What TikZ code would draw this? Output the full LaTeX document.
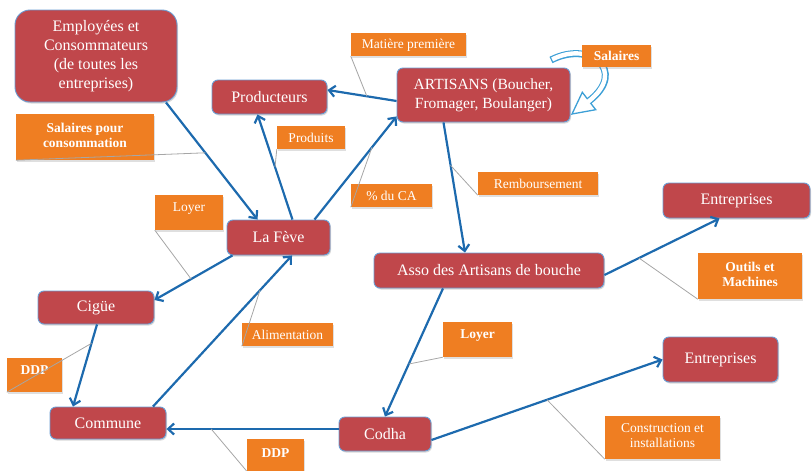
\documentclass[tikz,border=0pt]{standalone}
\usepackage{fontspec}
\setmainfont{Liberation Serif}
\usetikzlibrary{arrows.meta,shadows}
\definecolor{nodered}{HTML}{C0474B}
\definecolor{nodeborder}{HTML}{6A9BD1}
\definecolor{lorange}{HTML}{EF7E22}
\definecolor{arrblue}{HTML}{1D6AAE}
\definecolor{leadgray}{HTML}{A6A6A6}
\definecolor{curveblue}{HTML}{3C9FD6}
\begin{document}
\begin{tikzpicture}[x=1pt,y=-1pt,
  rnode/.style={draw=nodeborder, line width=0.9pt, fill=nodered, rounded corners=6pt,
    text=white, align=center, font=\fontsize{16}{19}\selectfont, inner sep=0pt,
    drop shadow={shadow xshift=1pt, shadow yshift=-1.5pt, opacity=0.3}},
  lbl/.style={fill=lorange, inner sep=0pt,
    drop shadow={shadow xshift=1pt, shadow yshift=-1.5pt, opacity=0.25}},
  ltxt/.style={text=white, align=center, font=\fontsize{13.5}{15}\selectfont, inner sep=0pt},
  btxt/.style={ltxt, font=\fontsize{13.5}{15}\selectfont\bfseries},
  arr/.style={draw=arrblue, line width=2.2pt, -{Straight Barb[length=6pt,width=11pt]}},
  lead/.style={draw=leadgray, line width=0.8pt}
]
\useasboundingbox (0,0) rectangle (812,471);

% ---------- red nodes ----------
\node[rnode, rounded corners=15pt, minimum width=162pt, minimum height=92pt] (emp) at (96,56)
  {Employées et\\Consommateurs\\(de toutes les\\entreprises)};
\node[rnode, minimum width=115pt, minimum height=34pt] (prod) at (269.5,97) {Producteurs};
\node[rnode, minimum width=173pt, minimum height=54pt, font=\fontsize{15.5}{19}\selectfont] (art) at (483.5,95)
  {ARTISANS (Boucher,\\Fromager, Boulanger)};
\node[rnode, minimum width=103pt, minimum height=35pt] (feve) at (278.5,237.5) {La Fève};
\node[rnode, minimum width=116pt, minimum height=33pt] (cigue) at (96,307.5) {Cigüe};
\node[rnode, minimum width=116pt, minimum height=32pt] (commune) at (108,423) {Commune};
\node[rnode, minimum width=92pt, minimum height=34pt] (codha) at (385,434) {Codha};
\node[rnode, minimum width=230pt, minimum height=35pt] (asso) at (489,270.5) {Asso des Artisans de bouche};
\node[rnode, minimum width=147pt, minimum height=35pt] (entA) at (736.5,200.5) {Entreprises};
\node[rnode, minimum width=115pt, minimum height=45pt] (entB) at (720.5,359.5) {Entreprises};

% ---------- Salaires loop arrow ----------
\draw[line width=7pt, curveblue] (551,60) .. controls (590,40) and (628,71) .. (589,101);
\draw[curveblue, line width=1.3pt, fill=white, line join=miter]
  (595.7,109.7) -- (572,114) -- (582.3,92.3) -- cycle;
\draw[line width=4.4pt, white, shorten <=1.3pt, shorten >=-1.2pt] (551,60) .. controls (590,40) and (628,71) .. (589,101);

% ---------- orange labels ----------
\node[lbl, minimum width=115pt, minimum height=23pt] (mat) at (408.5,44.5) {};
\node[ltxt] at (408.5,45) {Matière première};
\node[lbl, minimum width=69pt, minimum height=22pt] (sal) at (616.5,56) {};
\node[btxt] at (616.5,56) {Salaires};
\node[lbl, minimum width=138pt, minimum height=46pt] (salcons) at (85,137) {};
\node[btxt] at (85,135.5) {Salaires pour\\consommation};
\node[lbl, minimum width=68pt, minimum height=23pt] (produits) at (311,137.5) {};
\node[ltxt] at (311,137.5) {Produits};
\node[lbl, minimum width=81pt, minimum height=23pt] (ca) at (391.5,195.5) {};
\node[ltxt] at (391.5,195.5) {\% du CA};
\node[lbl, minimum width=120pt, minimum height=23pt] (remb) at (538,183.5) {};
\node[ltxt] at (538,183.5) {Remboursement};
\node[lbl, minimum width=68pt, minimum height=35pt] (loyerA) at (189,212.5) {};
\node[ltxt] at (189,209) {Loyer};
\node[lbl, minimum width=91pt, minimum height=23pt] (alim) at (287.5,334.5) {};
\node[ltxt] at (287.5,335) {Alimentation};
\node[lbl, minimum width=55pt, minimum height=34pt] (ddpA) at (34.5,375) {};
\node[btxt] at (34.5,370.5) {DDP};
\node[lbl, minimum width=57pt, minimum height=36pt] (ddpB) at (275.5,457) {};
\node[btxt] at (275.5,453) {DDP};
\node[lbl, minimum width=104pt, minimum height=46pt] (outils) at (750,276) {};
\node[btxt] at (750,274) {Outils et\\Machines};
\node[lbl, minimum width=69pt, minimum height=35pt] (loyerB) at (477.5,339.5) {};
\node[btxt] at (477.5,336) {Loyer};
\node[lbl, minimum width=115pt, minimum height=43pt] (constr) at (662.5,437.5) {};
\node[ltxt] at (662.5,436) {Construction et\\installations};

% ---------- arrows ----------
\draw[arr] ([xshift=70pt]emp.south) -- coordinate[pos=0.43] (m1) ([xshift=-21pt]feve.north);
\draw[arr] ([xshift=14pt]feve.north) -- coordinate[pos=0.50] (m2) ([xshift=-12pt]prod.south);
\draw[arr] ([xshift=36pt]feve.north) -- coordinate[pos=0.70] (m3) ([yshift=6pt]art.south west);
\draw[arr] ([yshift=-6pt]art.west) -- coordinate[pos=0.43] (m4) ([yshift=7pt]prod.east);
\draw[arr] ([xshift=-40pt]art.south) -- coordinate[pos=0.33] (m5) ([xshift=-24pt]asso.north);
\draw[arr] ([yshift=-4.5pt]asso.east) -- coordinate[pos=0.30] (m6) ([xshift=-17pt]entA.south);
\draw[arr] ([xshift=-46pt]asso.south) -- coordinate[pos=0.59] (m7) (codha.north);
\draw[arr] ([yshift=-6pt]codha.east) -- coordinate[pos=0.50] (m8) (entB.west);
\draw[arr] ([yshift=5pt]codha.west) -- coordinate[pos=0.74] (m9) ([yshift=-6pt]commune.east);
\draw[arr] ([xshift=45pt]commune.north) -- coordinate[pos=0.77] (m10) ([xshift=13.5pt]feve.south);
\draw[arr] ([xshift=6pt]feve.south west) -- coordinate[pos=0.53] (m11) ([yshift=7.5pt]cigue.east);
\draw[arr] ([xshift=1pt]cigue.south) -- coordinate[pos=0.23] (m12) ([xshift=-35pt]commune.north);

% ---------- leader lines ----------
\draw[lead] (mat.south west) -- (m4);
\draw[lead] (salcons.south west) -- (m1);
\draw[lead] (produits.south west) -- (m2);
\draw[lead] (ca.south west) -- (m3);
\draw[lead] (remb.south west) -- (m5);
\draw[lead] (loyerA.south west) -- (m11);
\draw[lead] (alim.south west) -- (m10);
\draw[lead] (ddpA.south west) -- (m12);
\draw[lead] ([yshift=4pt]ddpB.south west) -- (m9);
\draw[lead] (outils.south west) -- (m6);
\draw[lead] (loyerB.south west) -- (m7);
\draw[lead] (constr.south west) -- (m8);
\end{tikzpicture}
\end{document}
